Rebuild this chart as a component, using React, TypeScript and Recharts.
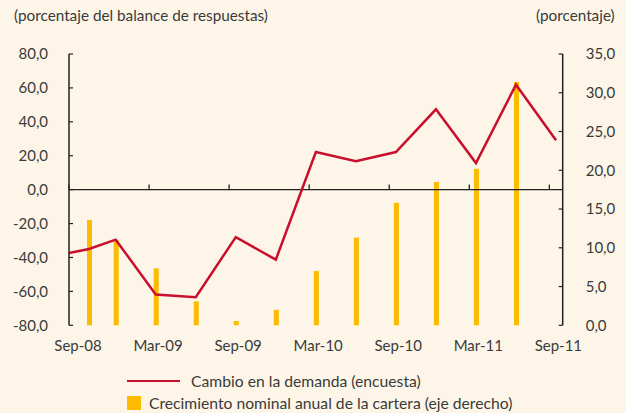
import React from 'react';
import { ComposedChart, Line, Bar, XAxis, YAxis, ReferenceLine } from 'recharts';

// months since Sep-08
const months = [0, 1.5, 3.5, 6.5, 9.5, 12.5, 15.5, 18.5, 21.5, 24.5, 27.5, 30.5, 33.5, 36.5];
const demandChange = [-37.4, -35, -29.5, -61.8, -63.4, -28, -41.3, 22.2, 16.7, 22.2, 47.4, 15.7, 61.9, 29.1];
const portfolioGrowth = [null, 13.6, 11.0, 7.35, 3.1, 0.55, 2.0, 7.0, 11.3, 15.8, 18.5, 20.2, 31.4, null];

const xTickMonths = [0, 6, 12, 18, 24, 30, 36];
const xTickLabels = ['Sep-08', 'Mar-09', 'Sep-09', 'Mar-10', 'Sep-10', 'Mar-11', 'Sep-11'];
const leftTicks = [-80, -60, -40, -20, 0, 20, 40, 60, 80];
const rightTicks = [0, 5, 10, 15, 20, 25, 30, 35];

const leftTitle = '(porcentaje del balance de respuestas)';
const rightTitle = '(porcentaje)';
const legendLine = 'Cambio en la demanda (encuesta)';
const legendBar = 'Crecimiento nominal anual de la cartera (eje derecho)';

const data = months.map((m, i) => ({ m, demand: demandChange[i], portfolio: portfolioGrowth[i] }));

const FONT = 'Lato, "Open Sans", sans-serif';
const TEXT = '#3a3a3a';
const RED = '#C8102E';
const GOLD = '#FDBB00';
const AXIS = '#222';

const fmt = (v: number) => v.toFixed(1).replace('.', ',');

const XTick = (props: any) => {
  const { x, y, payload } = props;
  const idx = xTickMonths.indexOf(payload.value);
  return (
    <text x={x + 9} y={y + 7} dy="0.71em" textAnchor="middle" fill={TEXT} fontSize={15} fontFamily={FONT}>
      {xTickLabels[idx]}
    </text>
  );
};

export default function App() {
  return (
    <div style={{ position: 'absolute', left: 0, top: 0, width: 626, height: 413, background: '#FDF6E8', fontFamily: FONT, color: TEXT }}>
      <div style={{ position: 'absolute', left: 14, top: 6, fontSize: 15.3, whiteSpace: 'nowrap' }}>{leftTitle}</div>
      <div style={{ position: 'absolute', left: 536, top: 6, fontSize: 15.3, whiteSpace: 'nowrap' }}>{rightTitle}</div>
      <ComposedChart width={626} height={413} data={data} margin={{ top: 54, right: 0, bottom: 57.7, left: 0 }}>
        <XAxis
          dataKey="m"
          type="number"
          domain={[0, 37]}
          ticks={xTickMonths}
          axisLine={false}
          tickLine={false}
          height={30}
          tick={<XTick />}
          interval={0}
        />
        <YAxis
          yAxisId="left"
          orientation="left"
          width={69}
          domain={[-80, 80]}
          ticks={leftTicks}
          tickFormatter={fmt}
          interval={0}
          axisLine={{ stroke: AXIS, strokeWidth: 1.5 }}
          tickLine={{ stroke: AXIS, strokeWidth: 1.2 }}
          tickSize={-4}
          tickMargin={25}
          tick={{ fill: TEXT, fontSize: 15, fontFamily: FONT }}
        />
        <YAxis
          yAxisId="right"
          orientation="right"
          width={63.3}
          domain={[0, 35]}
          ticks={rightTicks}
          tickFormatter={fmt}
          interval={0}
          axisLine={{ stroke: AXIS, strokeWidth: 1.5 }}
          tickLine={{ stroke: AXIS, strokeWidth: 1.2 }}
          tickSize={-4}
          tickMargin={27}
          tick={{ fill: TEXT, fontSize: 15, fontFamily: FONT }}
        />
        <Bar yAxisId="right" dataKey="portfolio" fill={GOLD} barSize={5} isAnimationActive={false} />
        <ReferenceLine yAxisId="left" y={0} stroke={AXIS} strokeWidth={1.3} />
        {xTickMonths.map((m) => (
          <ReferenceLine key={m} yAxisId="left" segment={[{ x: m, y: 0 }, { x: m, y: 3 }]} stroke={AXIS} strokeWidth={1.3} />
        ))}
        <Line yAxisId="left" dataKey="demand" stroke={RED} strokeWidth={2.5} dot={false} isAnimationActive={false} connectNulls />
      </ComposedChart>
      <div style={{ position: 'absolute', left: 127, top: 372, fontSize: 15.7, whiteSpace: 'nowrap', display: 'flex', alignItems: 'center' }}>
        <span style={{ display: 'inline-block', width: 53, height: 2.5, background: RED, marginRight: 11 }} />
        <span>{legendLine}</span>
      </div>
      <div style={{ position: 'absolute', left: 127, top: 394, fontSize: 15.7, whiteSpace: 'nowrap', display: 'flex', alignItems: 'center' }}>
        <span style={{ display: 'inline-block', width: 13.5, height: 13.5, background: GOLD, marginRight: 8.5 }} />
        <span>{legendBar}</span>
      </div>
    </div>
  );
}
